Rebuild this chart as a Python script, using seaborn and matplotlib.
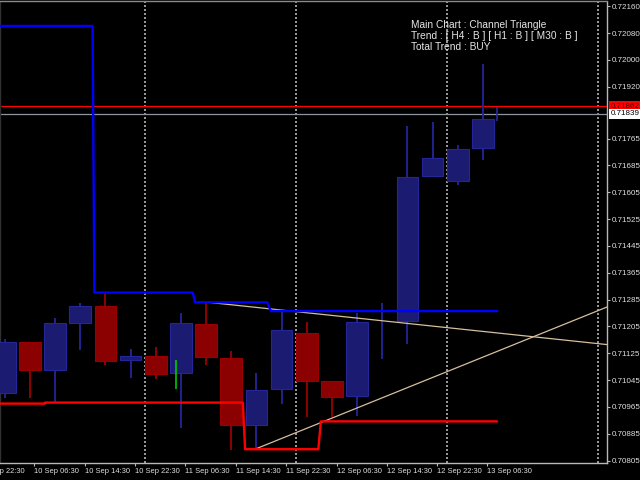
import matplotlib
matplotlib.use("Agg")
import matplotlib.pyplot as plt
import matplotlib.transforms as mtransforms
import seaborn as sns
import pandas as pd

# ---- H4 candles (index 0..19) ----
opens  = [0.71008, 0.71158, 0.71076, 0.71215, 0.71267, 0.71104, 0.71117, 0.71067, 0.71212, 0.71112,
          0.70911, 0.71019, 0.71186, 0.71041, 0.70997, 0.71190, 0.71222, 0.71655, 0.71639, 0.71737]
highs  = [0.71169, 0.71160, 0.71230, 0.71275, 0.71302, 0.71138, 0.71143, 0.71246, 0.71279, 0.71132,
          0.71067, 0.71248, 0.71219, 0.71041, 0.71245, 0.71274, 0.71803, 0.71814, 0.71746, 0.71987]
lows   = [0.70993, 0.70993, 0.70979, 0.71134, 0.71090, 0.71052, 0.71048, 0.70903, 0.71090, 0.70837,
          0.70840, 0.70975, 0.70936, 0.70936, 0.70938, 0.71107, 0.71154, 0.71651, 0.71628, 0.71700]
closes = [0.71158, 0.71076, 0.71216, 0.71267, 0.71102, 0.71117, 0.71064, 0.71214, 0.71114, 0.70911,
          0.71017, 0.71195, 0.71042, 0.70996, 0.71217, 0.71190, 0.71651, 0.71706, 0.71735, 0.71824]

# time axis
time_labels = ["9 Sep 22:30", "10 Sep 06:30", "10 Sep 14:30", "10 Sep 22:30", "11 Sep 06:30",
               "11 Sep 14:30", "11 Sep 22:30", "12 Sep 06:30", "12 Sep 14:30", "12 Sep 22:30",
               "13 Sep 06:30"]
time_label_pos = [-0.82, 1.18, 3.18, 5.18, 7.18, 9.19, 11.19, 13.19, 15.2, 17.19, 19.18]

# price axis
price_ticks = [0.72160, 0.72080, 0.72000, 0.71920, 0.71765, 0.71685, 0.71605, 0.71525, 0.71445,
               0.71365, 0.71285, 0.71205, 0.71125, 0.71045, 0.70965, 0.70885, 0.70805]

# channel indicator lines
upper_x = [-0.19, 3.49, 3.56, 7.47, 7.56, 10.43, 10.57, 19.57]
upper_y = [0.72101, 0.72101, 0.71306, 0.71306, 0.71277, 0.71277, 0.71251, 0.71251]
lower_x = [-0.19, 1.6, 1.6, 9.46, 9.55, 12.46, 12.56, 19.56]
lower_y = [0.70975, 0.70975, 0.70978, 0.70978, 0.70839, 0.70839, 0.70922, 0.70922]

# triangle lines
tri1_x = [8.09, 23.93]
tri1_y = [0.71277, 0.71151]
tri2_x = [9.94, 23.93]
tri2_y = [0.70839, 0.71263]

# day separators
sep_pos = [5.57, 11.57, 17.58, 23.59]

# extra marks
mark_x = [6.82, 19.55]
mark_lo = [0.71018, 0.71817]
mark_hi = [0.71105, 0.71859]
mark_col = ["#00c800", "#2a2aa0"]

resistance = 0.71862
bid = 0.71839

info_lines = ["Main Chart : Channel Triangle",
              "Trend : [ H4 : B ] [ H1 : B ] [ M30 : B ]",
              "Total Trend : BUY"]

sns.set_theme(style="dark", rc={"axes.facecolor": "black", "figure.facecolor": "black"})
plt.rcParams["font.family"] = ["Liberation Sans", "DejaVu Sans"]

XLIM = (-0.19, 23.93)
YLIM = (0.70797, 0.72174)
TICK_LEN, XPAD, XFS, YFS = 2.2, 1.5, 5.4, 5.8

fig = plt.figure(figsize=(6.4, 4.8), dpi=100)
ax = fig.add_axes([0.0, 1 - 463.3 / 480, 607 / 640, (463.3 - 1.5) / 480])
ax.set_facecolor("black")

# separators
for s in sep_pos:
    ax.axvline(s, color="#b4b4b4", lw=1.2, ls=(0, (1.2, 1.2)), zorder=1)

# horizontal lines
ax.axhline(resistance, color="#ff0000", lw=0.9, zorder=2)
ax.axhline(bid, color="#8c96a0", lw=0.9, zorder=2)

# candles
BLUE_B, BLUE_W = "#1b1b72", "#25259a"
RED_B, RED_W = "#8b0000", "#9a0000"
xs = list(range(len(opens)))
for i in xs:
    up = closes[i] >= opens[i]
    ax.vlines(i, lows[i], highs[i], color=BLUE_W if up else RED_W, lw=1.3, zorder=3)
for i in xs:
    up = closes[i] >= opens[i]
    h = closes[i] - opens[i]
    if abs(h) < 1e-9:
        continue
    ax.bar(i, h, bottom=opens[i], width=0.86,
           color=BLUE_B if up else RED_B, edgecolor=BLUE_W if up else RED_W,
           linewidth=0.8, zorder=4)

for x, lo, hi, c in zip(mark_x, mark_lo, mark_hi, mark_col):
    ax.vlines(x, lo, hi, color=c, lw=1.2, zorder=5)

# triangle lines
for tx, ty in ((tri1_x, tri1_y), (tri2_x, tri2_y)):
    sns.lineplot(x=tx, y=ty, ax=ax, color="#d6c09e", lw=0.9, sort=False, estimator=None, zorder=6)

# channel lines
up_df = pd.DataFrame({"x": upper_x, "y": upper_y})
lo_df = pd.DataFrame({"x": lower_x, "y": lower_y})
sns.lineplot(data=up_df, x="x", y="y", ax=ax, color="#0000ff", lw=1.7, sort=False, estimator=None, zorder=7)
sns.lineplot(data=lo_df, x="x", y="y", ax=ax, color="#ff0000", lw=1.7, sort=False, estimator=None, zorder=7)

# axes styling
ax.grid(False)
ax.set_xlabel("")
ax.set_ylabel("")
ax.spines["left"].set_visible(True)
ax.spines["left"].set_color("#303030")
ax.spines["right"].set_color("#b8b8b8")
ax.spines["bottom"].set_color("#b8b8b8")
ax.spines["top"].set_color("#8a8a8a")
for sp in ax.spines.values():
    sp.set_linewidth(1.0)

ax.yaxis.tick_right()
ax.set_yticks(price_ticks)
ax.set_yticklabels([f"{v:.5f}" for v in price_ticks])
ax.tick_params(axis="y", which="both", right=True, left=False, direction="out", length=TICK_LEN,
               width=0.8, color="#b8b8b8", labelcolor="#e0e0e0", labelsize=YFS, pad=1.2)

# x ticks inside the view; labels partly outside the view are drawn as annotations
in_view = [(p, l) for p, l in zip(time_label_pos, time_labels) if XLIM[0] <= p <= XLIM[1]]
out_view = [(p, l) for p, l in zip(time_label_pos, time_labels) if not (XLIM[0] <= p <= XLIM[1])]
ax.set_xticks([p for p, _ in in_view])
ax.set_xticklabels([l for _, l in in_view])
ax.tick_params(axis="x", which="both", bottom=True, direction="out", length=TICK_LEN, width=0.8,
               color="#b8b8b8", labelcolor="#e0e0e0", labelsize=XFS, pad=XPAD)
for lab in ax.get_xticklabels():
    lab.set_horizontalalignment("left")
for p, l in out_view:
    ax.annotate(l, xy=(p, 0), xycoords=("data", "axes fraction"),
                xytext=(0, -(TICK_LEN + XPAD)), textcoords="offset points",
                ha="left", va="top", fontsize=XFS, color="#e0e0e0", annotation_clip=False)

ax.set_xlim(*XLIM)
ax.set_ylim(*YLIM)

# price label boxes
trans = mtransforms.blended_transform_factory(ax.transAxes, ax.transData)
ax.text(1.006, resistance, f"{resistance:.5f}", transform=trans, ha="left", va="center",
        fontsize=YFS, color="#400000", clip_on=False, zorder=10,
        bbox=dict(boxstyle="square,pad=0.15", fc="#ff0000", ec="none"))
ax.text(1.006, bid, f"{bid:.5f}", transform=trans, ha="left", va="center",
        fontsize=YFS, color="#000000", clip_on=False, zorder=10,
        bbox=dict(boxstyle="square,pad=0.15", fc="#ffffff", ec="none"))

# info text
for k, line in enumerate(info_lines):
    fig.text(411 / 640, 1 - (25 + 11.2 * k) / 480, line, color="#e6e6e6", fontsize=7.3,
             ha="left", va="center")

fig.savefig("out.png", dpi=100, facecolor="black")
